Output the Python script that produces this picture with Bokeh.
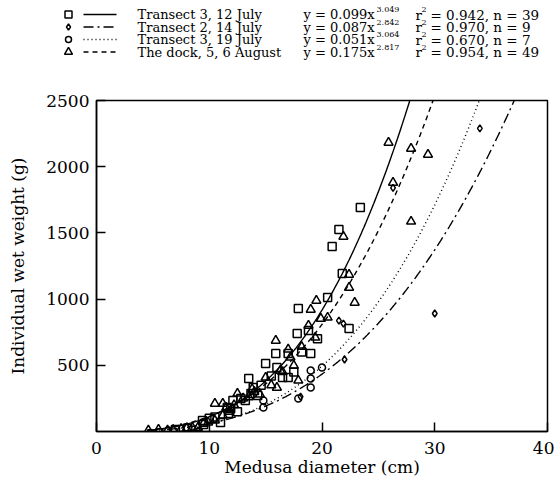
import numpy as np
from bokeh.plotting import figure
from bokeh.models import Range1d, FixedTicker
from bokeh.embed import file_html
from bokeh.resources import INLINE
from bokeh.core.properties import value

# ---------------- data ----------------
series_labels = ["Transect 3, 12 July", "Transect 2, 14 July",
                 "Transect 3, 19 July", "The dock, 5, 6 August"]
coef_a = [0.099, 0.087, 0.051, 0.175]
coef_b = [3.049, 2.842, 3.064, 2.817]
r_squared = [0.942, 0.970, 0.670, 0.954]
n_obs = [39, 9, 7, 49]

# Transect 3, 12 July (squares)
sq_x = [7.0, 8.1, 9.4, 9.5, 10.0, 10.5, 11.0, 11.6, 11.7, 11.9, 12.1, 12.8, 13.2,
        13.5, 13.7, 13.9, 14.3, 14.6, 15.0, 15.5, 15.9, 16.0, 16.5, 17.0, 17.0,
        17.5, 17.8, 17.9, 18.2, 18.8, 19.0, 19.6, 20.5, 20.9, 21.5, 21.8, 22.4,
        23.4, 12.5]
sq_y = [15, 23, 83, 53, 100, 110, 68, 181, 136, 174, 234, 249, 234,
        400, 287, 332, 272, 350, 513, 420, 589, 483, 408, 589, 408,
        450, 740, 929, 600, 762, 589, 700, 1012, 1397, 1525, 1193, 778,
        1691, 150]

# Transect 2, 14 July (diamonds)
di_x = [9.0, 12.0, 18.1, 21.5, 21.9, 22.0, 26.3, 30.0, 34.0]
di_y = [8, 180, 264, 838, 815, 544, 1840, 891, 2290]

# Transect 3, 19 July (circles)
ci_x = [14.8, 14.8, 17.9, 19.0, 19.0, 19.0, 20.0]
ci_y = [234, 181, 249, 460, 400, 332, 483]

# The dock, 5, 6 August (triangles)
tr_x = [4.6, 5.5, 6.3, 6.8, 7.5, 8.0, 8.5, 9.0, 9.9, 10.5, 10.5, 11.2, 11.2,
        11.5, 11.8, 12.2, 12.5, 13.0, 13.5, 14.0, 14.5, 15.0, 15.5, 15.9, 16.0,
        16.3, 16.5, 17.0, 17.2, 17.5, 17.9, 18.2, 18.8, 19.0, 19.4, 19.5, 19.9,
        9.5, 20.5, 13.8, 21.9, 22.4, 22.4, 22.9, 25.9, 26.3, 27.9, 27.9, 29.4]
tr_y = [8, 15, 8, 12, 20, 25, 30, 30, 68, 83, 211, 211, 121,
        180, 150, 200, 287, 250, 260, 300, 280, 408, 350, 687, 332,
        460, 450, 620, 560, 498, 385, 640, 800, 921, 710, 989, 853,
        60, 861, 320, 1472, 1185, 1087, 974, 2182, 1880, 2137, 1586, 2091]

x_ticks = [0, 10, 20, 30, 40]
y_ticks = [500, 1000, 1500, 2000, 2500]

# ---------------- styles ----------------
FONT = "DejaVu Serif"
dashes = ["solid", "10 4 2 4", "1 3", "5 4"]
markers = ["square", "diamond", "circle", "triangle"]
msizes = [8, 7, 7, 9]
W = 554
LEG_H = 70
MAIN_H = 413

# ---------------- legend panel (separate root) ----------------
leg = figure(width=W, height=LEG_H, x_range=Range1d(0, W), y_range=Range1d(LEG_H, 0),
             toolbar_location=None, output_backend="svg", min_border=0)
leg.axis.visible = False
leg.grid.visible = False
leg.outline_line_color = None

row_y = [14, 26.5, 39, 51.5]
for i in range(4):
    yy = row_y[i]
    leg.scatter([68], [yy], marker=markers[i], size=msizes[i] - 1, fill_color=None,
                line_color="black", line_width=1.5)
    leg.line([83, 116], [yy, yy], line_color="black", line_width=1.3, line_dash=dashes[i])
    leg.text([137], [yy], text=[series_labels[i]], text_font=value(FONT),
             text_font_size="13px", text_baseline="middle", text_color="black")
    leg.text([303], [yy], text=[f"y = {coef_a[i]:.3f}x"], text_font=value(FONT),
             text_font_size="13px", text_baseline="middle", text_color="black")
    leg.text([376], [yy - 5], text=[f"{coef_b[i]:.3f}"], text_font=value(FONT),
             text_font_size="8px", text_baseline="middle", text_color="black")
    leg.text([415], [yy], text=["r"], text_font=value(FONT),
             text_font_size="13.5px", text_baseline="middle", text_color="black")
    leg.text([421], [yy - 5], text=["2"], text_font=value(FONT),
             text_font_size="8px", text_baseline="middle", text_color="black")
    leg.text([430], [yy], text=[f"= {r_squared[i]:.3f}, n = {n_obs[i]}"], text_font=value(FONT),
             text_font_size="13.5px", text_baseline="middle", text_color="black")

# ---------------- main plot ----------------
p = figure(width=W, height=MAIN_H, x_range=Range1d(0, 40), y_range=Range1d(0, 2500),
           toolbar_location=None, output_backend="svg",
           min_border_left=96, min_border_right=7, min_border_top=30, min_border_bottom=52)
p.grid.visible = False
p.outline_line_color = "black"
p.outline_line_width = 1.5
p.background_fill_color = "white"

p.xaxis.ticker = FixedTicker(ticks=x_ticks)
p.yaxis.ticker = FixedTicker(ticks=y_ticks)
for ax in (p.xaxis[0], p.yaxis[0]):
    ax.axis_line_width = 1.5
    ax.axis_line_color = "black"
    ax.major_tick_in = 9
    ax.major_tick_out = 0
    ax.major_tick_line_width = 1.5
    ax.major_tick_line_color = "black"
    ax.minor_tick_line_color = None
    ax.major_label_text_font = FONT
    ax.major_label_text_font_size = "17px"
    ax.major_label_text_color = "black"
    ax.axis_label_text_font = FONT
    ax.axis_label_text_font_size = "17px"
    ax.axis_label_text_font_style = "normal"
    ax.axis_label_text_color = "black"
p.xaxis.axis_label = "Medusa diameter (cm)"
p.yaxis.axis_label = "Individual wet weight (g)"
p.xaxis.major_label_standoff = 10
p.xaxis.axis_label_standoff = 0
p.yaxis.major_label_standoff = 7
p.yaxis.axis_label_standoff = 15

# fitted power curves from legend equations
for i in range(4):
    xs = np.arange(4.5, 40.01, 0.1)
    ys = coef_a[i] * xs ** coef_b[i]
    keep = ys <= 2700
    p.line(xs[keep], ys[keep], line_color="black", line_width=1.4, line_dash=dashes[i])

pts = [(sq_x, sq_y), (di_x, di_y), (ci_x, ci_y), (tr_x, tr_y)]
for i, (xx, yy) in enumerate(pts):
    p.scatter(xx, yy, marker=markers[i], size=msizes[i], fill_color=None,
              line_color="black", line_width=1.5)

open("out.html", "w").write(file_html([leg, p], INLINE))
